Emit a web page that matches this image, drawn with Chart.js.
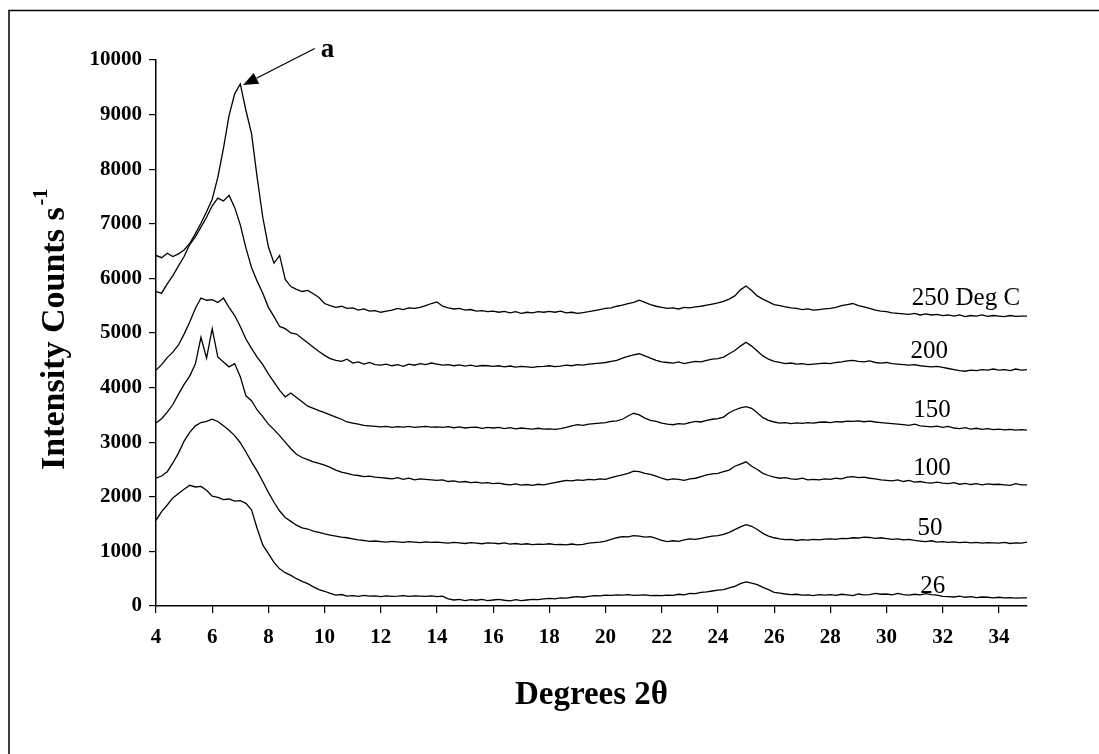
<!DOCTYPE html>
<html>
<head>
<meta charset="utf-8">
<title>XRD patterns</title>
<script src="https://cdn.jsdelivr.net/npm/chart.js"></script>
<style>
  html, body { margin: 0; padding: 0; background: #fff; }
</style>
</head>
<body>
<canvas id="xrd" width="1099" height="754"></canvas>
<script>
// sampling grid, degrees 2 theta (4 .. 35, every 0.2)
const thetas = Array.from({ length: 156 }, (_, i) => Math.round((4 + i * 0.2) * 10) / 10);

const xTicks = [4, 6, 8, 10, 12, 14, 16, 18, 20, 22, 24, 26, 28, 30, 32, 34];
const seriesNames = ['26', '50', '100', '150', '200', '250 Deg C'];

// intensity (counts/s), one row = 2 degrees
const s26 = [
  1570, 1730, 1850, 1980, 2060, 2140, 2210, 2180, 2190, 2120,
  2010, 1990, 1950, 1960, 1920, 1930, 1880, 1760, 1420, 1120,
  960, 800, 680, 610, 560, 500, 450, 410, 350, 300,
  270, 230, 200, 210, 180, 190, 175, 195, 180, 185,
  170, 185, 175, 180, 190, 175, 185, 180, 175, 185,
  170, 180, 130, 110, 120, 100, 115, 105, 120, 100,
  110, 120, 105, 95, 115, 100, 110, 120, 115, 130,
  140, 130, 150, 145, 160, 170, 160, 175, 190, 185,
  200, 195, 205, 200, 210, 195, 200, 205, 190, 195,
  190, 200, 195, 215, 205, 230, 225, 250, 260, 275,
  290, 300, 330, 360, 410, 440, 420, 390, 340, 300,
  250, 235, 220, 210, 215, 200, 205, 190, 210, 200,
  210, 195, 215, 205, 190, 220, 205, 210, 230, 215,
  220, 205, 230, 210, 200, 215, 205, 225, 210, 200,
  175, 170, 165, 180, 160, 170, 155, 165, 160, 150,
  160, 150, 155, 145, 150, 150
];
const s50 = [
  2340, 2380, 2460, 2620, 2800, 3020, 3180, 3300, 3360, 3380,
  3420, 3380, 3300, 3220, 3120, 2990, 2820, 2640, 2470, 2280,
  2080, 1900, 1740, 1620, 1550, 1480, 1430, 1410, 1370, 1350,
  1320, 1300, 1280, 1260, 1250, 1230, 1210, 1200, 1185, 1190,
  1180, 1170, 1185, 1175, 1165, 1180, 1170, 1160, 1175, 1165,
  1170, 1160, 1150, 1165, 1155, 1145, 1160, 1150, 1140, 1155,
  1150, 1140, 1155, 1135, 1145, 1130, 1140, 1125, 1135, 1130,
  1140, 1125, 1130, 1120, 1135, 1120, 1130, 1150, 1160, 1170,
  1190, 1220, 1250, 1270, 1265, 1290, 1280, 1260, 1270, 1240,
  1200, 1180, 1195, 1185, 1210, 1230, 1220, 1240, 1260, 1280,
  1290, 1310, 1350, 1400, 1450, 1490, 1460, 1400, 1330, 1280,
  1250, 1230, 1215, 1220, 1200, 1215, 1205, 1220, 1210, 1225,
  1230, 1220, 1240, 1235, 1250, 1245, 1260, 1255, 1240, 1250,
  1235, 1220, 1230, 1210, 1220, 1200, 1190, 1180, 1195, 1170,
  1180, 1165, 1175, 1160, 1170, 1155, 1165, 1150, 1160, 1155,
  1150, 1165, 1145, 1155, 1150, 1170
];
const s100 = [
  3350, 3430, 3550, 3690, 3880, 4060, 4210, 4430, 4920, 4540,
  5080, 4560, 4470, 4380, 4440, 4200, 3850, 3760, 3590, 3470,
  3330, 3230, 3120, 3000, 2880, 2780, 2720, 2680, 2640, 2610,
  2580, 2540, 2490, 2450, 2430, 2400, 2390, 2370, 2380, 2360,
  2350, 2340, 2330, 2350, 2320, 2340, 2310, 2330, 2320, 2310,
  2300, 2310, 2280, 2290, 2270, 2280, 2260, 2270, 2250, 2260,
  2240, 2250, 2230, 2220, 2235, 2215, 2225, 2210, 2230, 2220,
  2240, 2260, 2280, 2300, 2290, 2310, 2300, 2320, 2310, 2330,
  2320, 2350, 2380, 2400, 2430, 2470, 2460, 2430, 2410, 2380,
  2340, 2310, 2330, 2320, 2300, 2330, 2340, 2370, 2400, 2420,
  2430, 2460, 2490, 2560, 2600, 2640, 2560, 2500, 2430, 2390,
  2360, 2340, 2350, 2330, 2320, 2340, 2310, 2320, 2310, 2330,
  2320, 2340, 2330, 2360, 2370, 2350, 2360, 2340, 2330, 2310,
  2300, 2290, 2310, 2280, 2300, 2270, 2280, 2260, 2250, 2270,
  2250, 2240, 2260, 2230, 2245, 2225, 2240, 2220, 2235, 2225,
  2230, 2220, 2210, 2240, 2220, 2220
];
const s150 = [
  4320, 4420, 4550, 4650, 4780, 4980, 5200, 5450, 5640, 5600,
  5610, 5560, 5640, 5470, 5320, 5120, 4890, 4720, 4560, 4420,
  4250, 4100, 3950, 3830, 3900, 3820, 3740, 3660, 3620, 3580,
  3540, 3500, 3460, 3420, 3370, 3350, 3330, 3310, 3300, 3290,
  3280, 3290, 3270, 3285, 3275, 3290, 3270, 3280, 3290, 3275,
  3280, 3270, 3285, 3265, 3280, 3260, 3270, 3275, 3255, 3270,
  3260, 3270, 3250, 3265, 3245, 3260, 3250, 3240, 3255, 3240,
  3245, 3235, 3250, 3270, 3300, 3320, 3310, 3330, 3340, 3350,
  3360, 3380, 3390, 3420, 3480, 3530, 3500, 3440, 3400, 3380,
  3350, 3330, 3320, 3340, 3330, 3360, 3380, 3370, 3400, 3420,
  3430, 3460, 3540, 3590, 3630, 3650, 3620, 3540, 3450, 3400,
  3370, 3350, 3360, 3340, 3355, 3345, 3360, 3350, 3365, 3370,
  3360, 3375, 3370, 3385, 3380, 3390, 3375, 3385, 3370, 3360,
  3350, 3340, 3330, 3320, 3310, 3330, 3300, 3290, 3280, 3295,
  3270, 3290, 3260, 3250, 3265, 3240, 3255, 3235, 3250, 3230,
  3240, 3225, 3235, 3220, 3230, 3220
];
const s200 = [
  5760, 5730, 5900, 6050, 6230, 6400, 6620, 6760, 6940, 7120,
  7330, 7470, 7420, 7520, 7300, 6980, 6560, 6200, 5950, 5730,
  5470, 5300, 5120, 5080, 5000, 4980, 4900, 4820, 4740, 4660,
  4590, 4530, 4500, 4480, 4520, 4450, 4470, 4430, 4460, 4420,
  4410, 4430, 4400, 4420, 4390, 4430, 4410, 4440, 4420, 4450,
  4430, 4410, 4420, 4400, 4415, 4395, 4410, 4390, 4405, 4400,
  4390, 4400, 4380, 4395, 4375, 4390, 4380, 4370, 4385, 4390,
  4400, 4385, 4395, 4410, 4400, 4420, 4410, 4430, 4440, 4450,
  4460, 4480, 4500, 4540, 4570, 4600, 4620, 4580, 4540, 4500,
  4470, 4460, 4450, 4470, 4440, 4460, 4480, 4470, 4500, 4520,
  4530, 4560, 4620, 4680, 4760, 4830, 4760, 4670, 4580, 4520,
  4480, 4460, 4440, 4450, 4430, 4440, 4420, 4430, 4440, 4450,
  4440, 4460, 4470, 4490, 4500, 4480, 4470, 4490, 4460, 4450,
  4460, 4440, 4430, 4420, 4410, 4420, 4400, 4390, 4380, 4390,
  4370, 4350, 4330, 4310, 4300, 4320, 4310, 4330, 4320, 4340,
  4320, 4330, 4310, 4340, 4320, 4330
];
const s250 = [
  6420, 6380, 6460, 6400, 6450, 6520, 6640, 6820, 7010, 7220,
  7450, 7850, 8380, 8980, 9380, 9560, 9080, 8650, 7850, 7120,
  6580, 6280, 6420, 5980, 5850, 5800, 5760, 5780, 5720, 5650,
  5540, 5500, 5470, 5490, 5450, 5460, 5420, 5440, 5400, 5410,
  5380, 5400, 5420, 5450, 5430, 5460, 5450, 5470, 5500, 5540,
  5570, 5490, 5460, 5440, 5450, 5420, 5430, 5400, 5410, 5390,
  5400, 5380, 5395, 5370, 5390, 5360, 5380, 5370, 5390, 5380,
  5395, 5380, 5400, 5370, 5380, 5360, 5375, 5390, 5410, 5430,
  5450, 5460, 5490, 5510, 5540, 5560, 5600, 5560, 5520, 5490,
  5470, 5450, 5460, 5440, 5470, 5460, 5480, 5490, 5510, 5530,
  5550, 5580, 5620, 5680, 5790, 5860, 5780, 5680, 5620, 5570,
  5520, 5500, 5480, 5460, 5450, 5430, 5440, 5420, 5430, 5440,
  5450, 5470, 5500, 5520, 5540, 5500, 5480, 5450, 5420, 5400,
  5390, 5370, 5360, 5350, 5340, 5360, 5330, 5350, 5330, 5340,
  5320, 5330, 5310, 5330, 5300, 5320, 5310, 5330, 5305, 5320,
  5310, 5300, 5320, 5305, 5310, 5310
];
const allSeries = [s26, s50, s100, s150, s200, s250];

// where the temperature labels sit (degrees, counts) -- annotation only
const nameAt = [[31.2, 240], [31.1, 1300], [30.95, 2400], [30.95, 3460], [30.85, 4540], [30.9, 5510]];
// the "a" arrow pointing at the 250 peak
const arrowTip = [7.1, 9540];
const arrowTail = [9.65, 10210];
const letterAt = [10.1, 10180];

const serif = '"Liberation Serif", "Times New Roman", serif';

const decor = {
  id: 'decor',
  beforeDraw(chart) {
    const c = chart.ctx;
    c.save();
    c.fillStyle = '#fff';
    c.fillRect(0, 0, chart.width, chart.height);
    // outer frame (right and bottom sides fall outside the picture)
    c.strokeStyle = '#000';
    c.lineWidth = 1.5;
    c.beginPath();
    c.moveTo(9, chart.height);
    c.lineTo(9, 10.5);
    c.lineTo(chart.width, 10.5);
    c.stroke();
    c.restore();
  },
  afterDraw(chart) {
    const c = chart.ctx;
    const x = chart.scales.x, y = chart.scales.y;
    c.save();
    c.fillStyle = '#000';
    c.strokeStyle = '#000';

    // temperature labels
    c.font = '25px ' + serif;
    c.textAlign = 'left';
    c.textBaseline = 'alphabetic';
    seriesNames.forEach((n, i) => {
      c.fillText(n, x.getPixelForValue(nameAt[i][0]), y.getPixelForValue(nameAt[i][1]));
    });

    // arrow + "a"
    const tx = x.getPixelForValue(arrowTip[0]), ty = y.getPixelForValue(arrowTip[1]);
    const sx = x.getPixelForValue(arrowTail[0]), sy = y.getPixelForValue(arrowTail[1]);
    const len = Math.hypot(tx - sx, ty - sy);
    const ux = (tx - sx) / len, uy = (ty - sy) / len;
    const bx = tx - ux * 15, by = ty - uy * 15;
    c.lineWidth = 1.3;
    c.beginPath();
    c.moveTo(sx, sy);
    c.lineTo(bx, by);
    c.stroke();
    c.beginPath();
    c.moveTo(tx, ty);
    c.lineTo(bx - uy * 6, by + ux * 6);
    c.lineTo(bx + uy * 6, by - ux * 6);
    c.closePath();
    c.fill();
    c.font = 'bold 27px ' + serif;
    c.textAlign = 'center';
    c.textBaseline = 'middle';
    c.fillText('a', x.getPixelForValue(letterAt[0]), y.getPixelForValue(letterAt[1]));

    // y axis title with superscript, bottom end kept near y = 470
    const main = 'Intensity Counts s';
    const sup = '-1';
    c.font = 'bold 34px ' + serif;
    const w1 = c.measureText(main).width;
    c.font = 'bold 20px ' + serif;
    const w2 = c.measureText(sup).width;
    c.translate(53, 470);
    c.rotate(-Math.PI / 2);
    c.textAlign = 'left';
    c.textBaseline = 'alphabetic';
    c.font = 'bold 34px ' + serif;
    c.fillText(main, 0, 11);
    c.font = 'bold 20px ' + serif;
    c.fillText(sup, w1 + 2, -6);
    c.restore();
  }
};

const tickFont = { family: serif, weight: 'bold', size: 21 };

new Chart(document.getElementById('xrd'), {
  type: 'line',
  data: {
    datasets: allSeries.map((vals, k) => ({
      label: seriesNames[k],
      data: thetas.map((t, i) => ({ x: t, y: vals[i] })),
      borderColor: '#000',
      borderWidth: 1.3,
      pointRadius: 0,
      fill: false,
      tension: 0
    }))
  },
  options: {
    responsive: false,
    animation: false,
    devicePixelRatio: 1,
    layout: { padding: { left: 0, top: 60, right: 72, bottom: 0 } },
    plugins: {
      legend: { display: false },
      tooltip: { enabled: false }
    },
    scales: {
      x: {
        type: 'linear',
        min: 4,
        max: 35,
        afterBuildTicks: s => { s.ticks = xTicks.map(v => ({ value: v })); },
        afterFit: s => { s.height = 148; },
        grid: { drawOnChartArea: false, drawTicks: true, tickLength: 7, color: '#000', lineWidth: 1.2 },
        border: { display: true, color: '#000', width: 1.5 },
        ticks: { color: '#000', padding: 12, autoSkip: false, maxRotation: 0, font: tickFont },
        title: {
          display: true,
          text: 'Degrees 2θ',
          color: '#000',
          font: { family: serif, weight: 'bold', size: 33 },
          padding: { top: 0, bottom: 39 }
        }
      },
      y: {
        type: 'linear',
        min: 0,
        max: 10000,
        afterFit: s => { s.width = 156; },
        grid: { drawOnChartArea: false, drawTicks: true, tickLength: 7, color: '#000', lineWidth: 1.2 },
        border: { display: true, color: '#000', width: 1.5 },
        ticks: { stepSize: 1000, color: '#000', padding: 7, font: tickFont, callback: v => String(v) }
      }
    }
  },
  plugins: [decor]
});
</script>
</body>
</html>
